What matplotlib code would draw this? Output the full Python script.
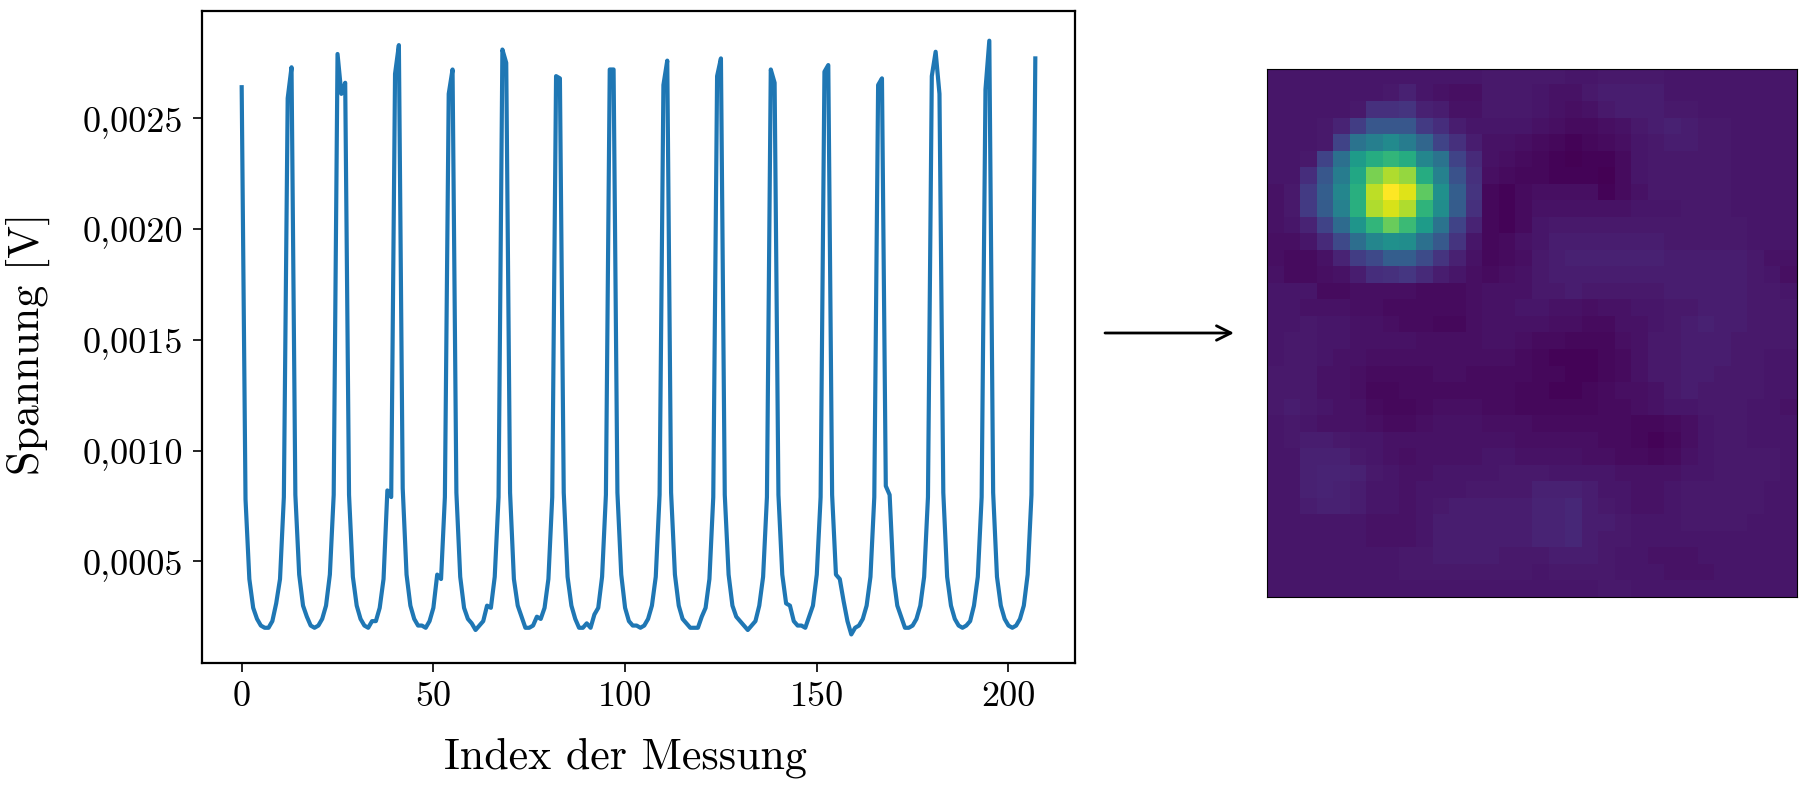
import numpy as np
import matplotlib
matplotlib.use("Agg")
import matplotlib.pyplot as plt
from matplotlib.patches import FancyArrowPatch
from matplotlib.ticker import FuncFormatter

W, H = 1811, 790

# Spannung in V
spannung = [
    .00264, .00078, .00042, .00029, .00024, .00021, .00020, .00020, .00023, .00031, .00042, .00079, .00259, .00273,
    .00080, .00044, .00030, .00025, .00021, .00020, .00021, .00024, .00030, .00044, .00080, .00279, .00261, .00266,
    .00080, .00043, .00030, .00024, .00021, .00020, .00023, .00023, .00029, .00042, .00082, .00079, .00270, .00283,
    .00083, .00044, .00030, .00024, .00021, .00021, .00020, .00023, .00029, .00044, .00042, .00079, .00261, .00272,
    .00081, .00043, .00029, .00024, .00022, .00019, .00021, .00023, .00030, .00029, .00043, .00079, .00281, .00275,
    .00081, .00042, .00030, .00025, .00020, .00020, .00021, .00025, .00024, .00029, .00042, .00079, .00269, .00268,
    .00081, .00043, .00030, .00024, .00020, .00020, .00022, .00020, .00026, .00029, .00043, .00080, .00272, .00272,
    .00081, .00044, .00029, .00023, .00021, .00021, .00020, .00021, .00024, .00030, .00043, .00080, .00265, .00276,
    .00081, .00044, .00030, .00024, .00022, .00020, .00020, .00020, .00025, .00029, .00042, .00079, .00269, .00277,
    .00080, .00044, .00030, .00025, .00023, .00021, .00019, .00021, .00023, .00030, .00043, .00079, .00272, .00266,
    .00080, .00044, .00031, .00030, .00023, .00021, .00021, .00020, .00025, .00030, .00044, .00079, .00271, .00274,
    .00080, .00044, .00042, .00032, .00023, .00017, .00020, .00021, .00024, .00030, .00043, .00079, .00265, .00268,
    .00084, .00080, .00043, .00030, .00025, .00020, .00020, .00021, .00024, .00030, .00043, .00079, .00269, .00280, .00261,
    .00081, .00043, .00030, .00024, .00021, .00020, .00021, .00023, .00030, .00043, .00079, .00263, .00285,
    .00081, .00043, .00030, .00024, .00021, .00020, .00021, .00024, .00030, .00044, .00080, .00277,
]
index = np.arange(len(spannung))

x_ticks = [0, 50, 100, 150, 200]
y_ticks = [0.0005, 0.0010, 0.0015, 0.0020, 0.0025]

# Heatmap 32x32, Werte in Prozent des Maximums
heat = np.array([
    [6, 6, 6, 6, 6, 6, 6, 6, 6, 6, 6, 6, 6, 7, 7, 7, 7, 7, 6, 6, 7, 7, 7, 7, 6, 6, 6, 6, 6, 6, 6, 6],
    [6, 6, 6, 6, 6, 6, 6, 7, 9, 6, 5, 4, 4, 7, 7, 7, 6, 5, 5, 7, 8, 8, 8, 8, 6, 6, 6, 6, 6, 6, 6, 6],
    [6, 6, 6, 6, 6, 7, 14, 14, 15, 9, 8, 5, 5, 7, 7, 7, 6, 5, 4, 5, 7, 8, 8, 8, 7, 7, 6, 6, 6, 6, 6, 6],
    [6, 6, 6, 7, 10, 18, 27, 27, 27, 17, 13, 8, 6, 6, 6, 6, 5, 4, 3, 3, 4, 5, 7, 8, 9, 8, 7, 7, 6, 6, 6, 6],
    [6, 6, 6, 7, 20, 38, 43, 48, 42, 33, 20, 14, 8, 5, 5, 4, 3, 2, 1, 2, 3, 4, 6, 7, 8, 8, 7, 7, 6, 6, 6, 6],
    [6, 6, 7, 20, 37, 55, 62, 66, 62, 46, 38, 20, 12, 5, 4, 3, 2, 1, 0, 1, 1, 3, 6, 7, 7, 7, 7, 7, 6, 6, 6, 6],
    [6, 6, 13, 27, 42, 60, 80, 88, 84, 62, 44, 25, 14, 4, 3, 2, 2, 1, 1, 1, 0, 3, 6, 7, 7, 7, 7, 7, 6, 6, 6, 6],
    [5, 7, 17, 30, 46, 63, 90, 100, 95, 75, 50, 30, 15, 2, 1, 3, 4, 4, 4, 4, 1, 3, 5, 7, 7, 7, 7, 7, 6, 6, 6, 6],
    [5, 7, 17, 29, 44, 63, 88, 94, 88, 65, 49, 29, 14, 2, 1, 3, 5, 5, 5, 5, 5, 5, 6, 6, 6, 7, 7, 7, 6, 6, 6, 6],
    [5, 6, 10, 20, 35, 52, 66, 77, 68, 55, 38, 20, 10, 2, 1, 3, 6, 7, 7, 7, 7, 7, 7, 7, 7, 7, 7, 7, 7, 6, 6, 6],
    [4, 4, 6, 12, 22, 36, 46, 50, 49, 37, 28, 15, 6, 2, 3, 5, 6, 8, 8, 8, 8, 8, 8, 8, 7, 7, 7, 7, 7, 6, 6, 6],
    [4, 3, 3, 5, 10, 18, 22, 30, 30, 23, 15, 9, 5, 2, 3, 4, 7, 8, 9, 9, 9, 9, 9, 9, 8, 8, 8, 8, 8, 7, 5, 5],
    [5, 3, 3, 4, 5, 8, 13, 14, 16, 12, 8, 6, 4, 3, 4, 5, 7, 8, 8, 8, 8, 8, 8, 8, 8, 8, 8, 8, 8, 7, 6, 4],
    [6, 6, 6, 3, 3, 4, 4, 4, 4, 3, 3, 3, 4, 5, 5, 5, 7, 7, 8, 7, 7, 7, 7, 7, 8, 8, 8, 8, 8, 7, 7, 6],
    [6, 6, 5, 5, 5, 4, 4, 3, 3, 3, 3, 3, 4, 5, 5, 6, 6, 5, 5, 4, 5, 5, 6, 6, 7, 7, 8, 8, 8, 7, 7, 7],
    [6, 6, 7, 6, 6, 5, 5, 4, 3, 3, 2, 2, 4, 5, 5, 5, 5, 4, 4, 3, 3, 5, 5, 6, 7, 8, 9, 8, 8, 7, 7, 7],
    [6, 7, 7, 6, 6, 5, 5, 5, 5, 4, 4, 4, 4, 5, 5, 4, 3, 3, 2, 2, 2, 4, 5, 7, 7, 8, 8, 8, 7, 7, 7, 7],
    [6, 7, 7, 6, 5, 5, 4, 4, 4, 4, 4, 4, 4, 4, 4, 3, 2, 1, 1, 1, 2, 3, 5, 7, 7, 8, 8, 8, 7, 7, 6, 6],
    [7, 7, 7, 5, 5, 4, 3, 3, 3, 3, 4, 4, 3, 3, 3, 3, 2, 2, 1, 1, 2, 3, 5, 7, 7, 8, 8, 7, 7, 7, 6, 6],
    [7, 7, 7, 5, 5, 4, 2, 2, 3, 3, 3, 3, 3, 3, 3, 2, 2, 1, 1, 2, 3, 4, 4, 5, 7, 8, 7, 7, 7, 7, 6, 6],
    [7, 8, 7, 6, 5, 5, 3, 2, 2, 3, 4, 4, 4, 3, 3, 2, 2, 2, 2, 2, 3, 3, 4, 5, 6, 6, 7, 7, 7, 6, 6, 5],
    [6, 7, 6, 5, 5, 5, 4, 3, 3, 4, 5, 5, 5, 4, 4, 4, 3, 3, 3, 3, 3, 3, 2, 2, 3, 4, 6, 7, 7, 6, 6, 6],
    [6, 7, 8, 8, 7, 6, 6, 5, 5, 5, 5, 5, 5, 5, 5, 4, 4, 4, 4, 4, 3, 3, 2, 1, 2, 4, 6, 7, 7, 6, 6, 6],
    [6, 6, 9, 9, 9, 7, 6, 5, 4, 5, 5, 5, 5, 6, 6, 5, 5, 5, 5, 4, 4, 3, 3, 2, 3, 5, 6, 7, 7, 7, 7, 6],
    [6, 6, 9, 10, 10, 9, 7, 6, 5, 5, 6, 6, 6, 6, 7, 7, 7, 6, 6, 6, 6, 5, 5, 5, 5, 6, 6, 7, 7, 7, 7, 6],
    [6, 6, 9, 10, 9, 8, 6, 6, 5, 6, 6, 6, 7, 7, 7, 7, 9, 9, 9, 8, 6, 6, 5, 5, 6, 7, 7, 7, 7, 7, 6, 6],
    [6, 6, 8, 9, 9, 8, 6, 6, 5, 6, 7, 8, 8, 8, 8, 8, 10, 10, 11, 8, 7, 6, 5, 5, 6, 7, 7, 7, 7, 7, 6, 6],
    [6, 6, 6, 6, 6, 6, 5, 5, 5, 6, 8, 8, 8, 8, 8, 8, 10, 10, 11, 8, 8, 7, 6, 6, 6, 7, 7, 7, 7, 6, 6, 6],
    [6, 6, 6, 6, 6, 6, 5, 5, 5, 6, 8, 8, 8, 8, 8, 8, 10, 10, 11, 8, 7, 7, 6, 6, 6, 6, 6, 6, 6, 6, 6, 6],
    [6, 6, 6, 6, 6, 6, 6, 6, 7, 7, 8, 8, 8, 8, 7, 7, 7, 8, 8, 8, 7, 6, 6, 5, 5, 5, 6, 6, 6, 6, 6, 6],
    [6, 6, 6, 6, 6, 6, 6, 6, 7, 7, 7, 7, 7, 7, 7, 7, 6, 7, 7, 7, 7, 6, 6, 6, 5, 5, 5, 6, 6, 6, 6, 6],
    [6, 6, 6, 6, 6, 6, 6, 6, 6, 6, 6, 6, 6, 6, 6, 6, 6, 6, 6, 6, 7, 7, 6, 6, 6, 6, 6, 6, 6, 6, 6, 6],
]) / 100


def box(left, top, right, bottom):
    return [left / W, 1 - bottom / H, (right - left) / W, (bottom - top) / H]


plt.rcParams['font.family'] = ['cmr10', 'DejaVu Sans']
plt.rcParams['axes.formatter.use_mathtext'] = False
plt.rcParams['axes.unicode_minus'] = False

fig = plt.figure(figsize=(W / 100, H / 100), dpi=100)

# Spannungsverlauf
ax = fig.add_axes(box(202, 11, 1075, 663))
ax.plot(index, spannung, color='#1f77b4', linewidth=3)
ax.set_xlim(-10.35, 217.35)
ax.set_ylim(0.000041, 0.002984)
ax.set_xticks(x_ticks)
ax.set_yticks(y_ticks)
ax.yaxis.set_major_formatter(FuncFormatter(lambda v, p: '{:.4f}'.format(v).replace('.', ',')))
ax.tick_params(labelsize=26, length=6.5, width=1.2, pad=7)
for s in ax.spines.values():
    s.set_linewidth(1.6)
fig.text(625 / W, 1 - 768 / H, 'Index der Messung', fontsize=31.7, ha='center', va='baseline')
fig.text(28 / W, 1 - 344 / H, 'Spannung [V]', fontsize=31.7, rotation=90, ha='center', va='center')

# Heatmap
ax2 = fig.add_axes(box(1267, 68.5, 1797, 597))
ax2.imshow(heat, cmap='viridis', vmin=0, vmax=1, aspect='auto', interpolation='nearest')
ax2.set_xticks([])
ax2.set_yticks([])
for s in ax2.spines.values():
    s.set_linewidth(0.8)

# Pfeil
arrow = FancyArrowPatch((1105 / W, 1 - 333 / H), (1234 / W, 1 - 333 / H), transform=fig.transFigure,
                        arrowstyle='->', mutation_scale=26, color='black', linewidth=2, shrinkA=0, shrinkB=0)
fig.add_artist(arrow)

fig.savefig('out.png', dpi=100)
